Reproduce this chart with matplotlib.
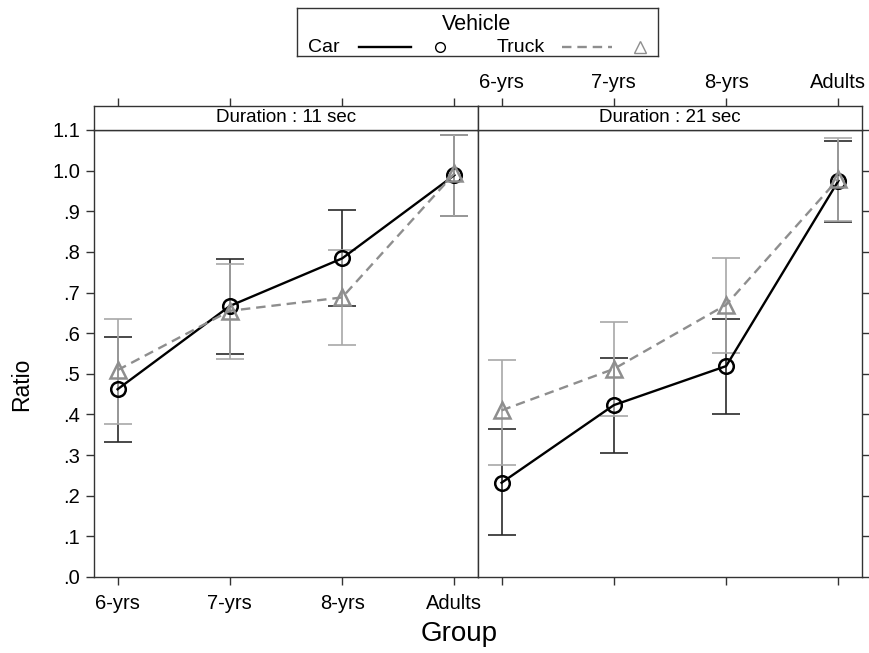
import numpy as np
import matplotlib
matplotlib.use('Agg')
import matplotlib.pyplot as plt

plt.rcParams['font.family'] = ['Liberation Sans', 'DejaVu Sans']

# dados
grupos = ['6-yrs', '7-yrs', '8-yrs', 'Adults']
duracoes = ['Duration : 11 sec', 'Duration : 21 sec']

car_11 = [0.462, 0.667, 0.784, 0.989]
car_11_lo = [0.331, 0.549, 0.668, 0.888]
car_11_hi = [0.591, 0.782, 0.903, 1.088]
truck_11 = [0.509, 0.655, 0.688, 0.993]
truck_11_lo = [0.376, 0.536, 0.570, 0.888]
truck_11_hi = [0.636, 0.771, 0.804, 1.088]

car_21 = [0.232, 0.423, 0.519, 0.975]
car_21_lo = [0.104, 0.305, 0.400, 0.874]
car_21_hi = [0.363, 0.540, 0.636, 1.073]
truck_21 = [0.410, 0.512, 0.670, 0.980]
truck_21_lo = [0.275, 0.395, 0.551, 0.877]
truck_21_hi = [0.535, 0.627, 0.785, 1.080]

yticks = [0.0, 0.1, 0.2, 0.3, 0.4, 0.5, 0.6, 0.7, 0.8, 0.9, 1.0, 1.1]
ylabels = ['.0', '.1', '.2', '.3', '.4', '.5', '.6', '.7', '.8', '.9', '1.0', '1.1']

cor_car = 'black'
cor_car_err = '#2a2a2a'
cor_truck = '#8e8e8e'
cor_truck_err = '#a8a8a8'
cor_eixo = '#333333'

W, H = 869, 653
fig = plt.figure(figsize=(W / 100, H / 100), dpi=100)


def caixa(x0, y0, x1, y1):
    # converte pixels para fracao da figura
    return [x0 / W, 1 - y1 / H, (x1 - x0) / W, (y1 - y0) / H]


def estilo(ax):
    for s in ax.spines.values():
        s.set_color(cor_eixo)
        s.set_linewidth(1.0)
    ax.tick_params(colors=cor_eixo, length=6, width=1.0, labelsize=14.5,
                   labelcolor='black', direction='out')


x = np.arange(len(grupos))
paineis = [
    (car_11, car_11_lo, car_11_hi, truck_11, truck_11_lo, truck_11_hi),
    (car_21, car_21_lo, car_21_hi, truck_21, truck_21_lo, truck_21_hi),
]
bordas = [(94, 478), (478, 862)]

for i, (dados, (xa, xb)) in enumerate(zip(paineis, bordas)):
    c, clo, chi, t, tlo, thi = [np.array(d) for d in dados]
    ax = fig.add_axes(caixa(xa, 130, xb, 577))
    st = fig.add_axes(caixa(xa, 106, xb, 130), sharex=ax)

    ax.errorbar(x, c, yerr=[c - clo, chi - c], fmt='none', ecolor=cor_car_err,
                elinewidth=1.2, capsize=10, capthick=1.2, zorder=2)
    ax.errorbar(x, t, yerr=[t - tlo, thi - t], fmt='none', ecolor=cor_truck_err,
                elinewidth=1.2, capsize=10, capthick=1.2, zorder=2)
    ax.plot(x, c, '-', color=cor_car, lw=1.7, marker='o', ms=10.5, mfc='none',
            mec=cor_car, mew=1.8, zorder=3)
    ax.plot(x, t, '--', color=cor_truck, lw=1.7, dashes=(4, 2.5), marker='^',
            ms=12, mfc='none', mec=cor_truck, mew=1.8, zorder=4)

    ax.set_xlim(-0.21, 3.21)
    ax.set_ylim(0, 1.1)
    ax.set_xticks(x)
    ax.set_xticklabels(grupos)
    ax.set_yticks(yticks)
    estilo(ax)
    estilo(st)

    if i == 0:
        ax.set_yticklabels(ylabels)
        ax.tick_params(axis='y', left=True, right=False, pad=4)
        ax.tick_params(axis='x', bottom=True, labelbottom=True, pad=6)
        st.tick_params(axis='x', top=True, bottom=False, labeltop=False,
                       labelbottom=False)
    else:
        ax.tick_params(axis='y', left=False, right=True, labelleft=False,
                       labelright=False)
        ax.tick_params(axis='x', bottom=True, labelbottom=False)
        st.tick_params(axis='x', top=True, bottom=False, labeltop=True,
                       labelbottom=False, pad=4)

    st.set_yticks([])
    st.text(0.5, 0.5, duracoes[i], transform=st.transAxes, ha='center',
            va='center', fontsize=13.5)

fig.text(459 / W, 1 - 634 / H, 'Group', ha='center', va='center', fontsize=20)
fig.text(22 / W, 1 - 384 / H, 'Ratio', ha='center', va='center', fontsize=16.5,
         rotation=90)

# legenda no topo
lg = fig.add_axes(caixa(297, 8, 658, 56))
lg.set_xlim(0, 361)
lg.set_ylim(48, 0)
lg.set_xticks([])
lg.set_yticks([])
for s in lg.spines.values():
    s.set_color(cor_eixo)
    s.set_linewidth(1.0)
lg.text(180, 17, 'Vehicle', ha='center', va='center', fontsize=15.5)
lg.text(11, 39, 'Car', ha='left', va='center', fontsize=14)
lg.plot([62, 114], [39, 39], '-', color=cor_car, lw=1.7)
lg.plot([143], [39], 'o', ms=7, mfc='none', mec=cor_car, mew=1.0)
lg.text(200, 39, 'Truck', ha='left', va='center', fontsize=14)
lg.plot([265, 315], [39, 39], '--', color=cor_truck, lw=1.7, dashes=(4, 2.5))
lg.plot([343], [39], '^', ms=9, mfc='none', mec=cor_truck, mew=1.0)

fig.savefig('out.png', dpi=100)
